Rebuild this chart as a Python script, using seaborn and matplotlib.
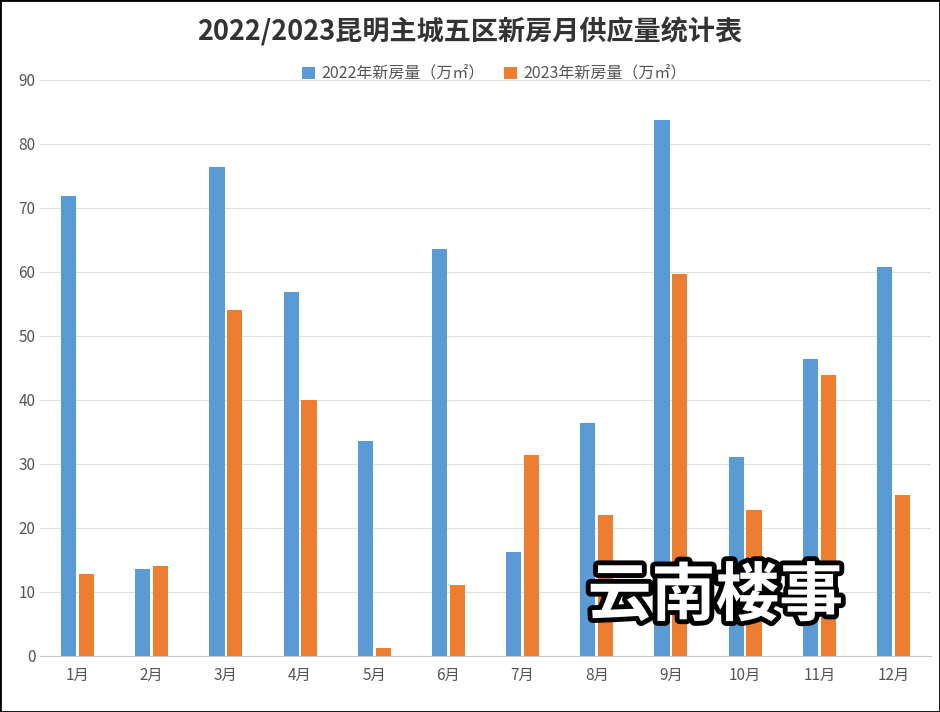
import matplotlib
matplotlib.use("Agg")
import matplotlib.pyplot as plt
import matplotlib.patheffects as pe
from matplotlib import font_manager as fm
import seaborn as sns
import pandas as pd

cjk = [f.name for f in fm.fontManager.ttflist if "CJK" in f.name]
pref = [n for n in ["Noto Sans CJK SC", "Noto Sans CJK JP"] if n in cjk] or cjk[:1]
plt.rcParams["font.family"] = "sans-serif"
plt.rcParams["font.sans-serif"] = pref + ["DejaVu Sans"]

months = ["1月","2月","3月","4月","5月","6月","7月","8月","9月","10月","11月","12月"]
s2022 = [71.8, 13.6, 76.3, 56.9, 33.5, 63.5, 16.2, 36.3, 83.7, 31.1, 46.3, 60.8]
s2023 = [12.7, 14.0, 54.1, 40.0, 1.2, 11.1, 31.3, 22.0, 59.6, 22.8, 43.9, 25.1]
series = ["2022年新房量（万㎡）", "2023年新房量（万㎡）"]

df = pd.DataFrame({"月": months * 2,
                   "值": s2022 + s2023,
                   "系列": [series[0]] * 12 + [series[1]] * 12})

fig = plt.figure(figsize=(9.4, 7.12), dpi=100)
ax = fig.add_axes([0.043, 0.079, 0.947, 0.809])
sns.barplot(data=df, x="月", y="值", hue="系列", palette=["#5B9BD5", "#ED7D31"],
            width=0.48, gap=0.15, ax=ax, saturation=1)
ax.set_ylim(0, 90)
ax.set_yticks(range(0, 91, 10))
ax.yaxis.grid(True, color="#E0E0E0", linewidth=0.8)
ax.set_axisbelow(True)
for s in ["top", "right", "left"]:
    ax.spines[s].set_visible(False)
ax.spines["bottom"].set_color("#C8C8C8")
ax.tick_params(axis="both", length=0, labelsize=11, colors="#555555")
ax.tick_params(axis="x", pad=8)
ax.set_xlabel(""); ax.set_ylabel("")
ax.legend(loc="upper center", bbox_to_anchor=(0.51, 1.05), ncol=2, frameon=False,
          fontsize=11.5, handlelength=0.8, handleheight=0.8, columnspacing=1.2,
          labelcolor="#555555", handletextpad=0.4)
fig.text(0.5, 0.955, "2022/2023昆明主城五区新房月供应量统计表", ha="center", va="center",
         fontsize=19.5, fontweight="bold", color="#333333")
fig.text(0.761, 0.162, "云南楼事", ha="center", va="center", fontsize=46, fontweight="bold",
         color="white", path_effects=[pe.withStroke(linewidth=7, foreground="black")])
fig.patches.append(plt.Rectangle((0, 0), 1, 1, transform=fig.transFigure, fill=False,
                                 edgecolor="black", linewidth=2))
fig.savefig("out.png", dpi=100)
